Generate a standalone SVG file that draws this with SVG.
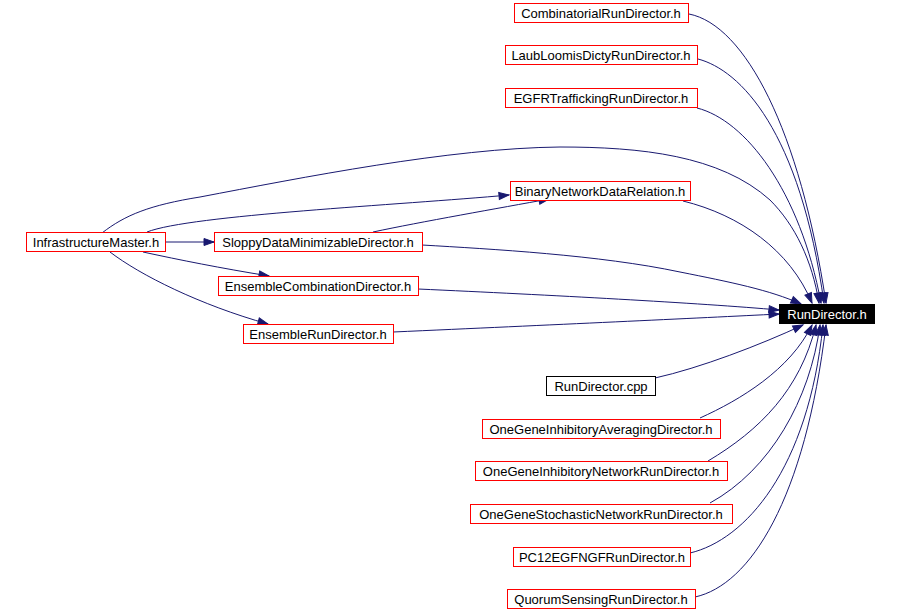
<svg xmlns="http://www.w3.org/2000/svg" width="897" height="611" viewBox="0 0 897 611">
<style>
.n rect{fill:#fff;stroke:#ff0000;stroke-width:1}
.n.b rect{stroke:#000}
.n.r rect{fill:#000;stroke:#000}
.n text{font-family:"Liberation Sans",Arial,sans-serif;font-size:13px;text-anchor:middle;fill:#000}
.n.r text{fill:#fff}
#edges path{fill:none;stroke:#191970;stroke-width:1;marker-end:url(#a)}
</style>
<defs>
<marker id="a" markerWidth="11" markerHeight="8" refX="10" refY="3.5" orient="auto" markerUnits="userSpaceOnUse" overflow="visible"><path d="M0,0 L10,3.5 L0,7 z" fill="#191970" stroke="#191970" stroke-width="1"/></marker>
</defs>
<rect width="897" height="611" fill="#fff"/>
<g id="edges">
<path d="M689,14 C745,25 800,130 826,303"/>
<path d="M698,59 C740,70 800,130 824,303"/>
<path d="M697,108 C745,120 800,190 821,303"/>
<path d="M102,233 C125,215 150,205 200,197 C300,178 450,148 560,147 C640,147 720,155 770,200 C795,225 812,260 819,303"/>
<path d="M147,232 C190,215 400,205 509,195"/>
<path d="M373,232 C420,222 500,208 549,199"/>
<path d="M683,201 C740,215 790,250 812,303"/>
<path d="M422,245 C490,249 600,255 680,272 C730,282 770,290 801,304"/>
<path d="M418,289 C550,295 700,303 779,310"/>
<path d="M393,332 C550,325 700,318 779,314"/>
<path d="M655,378 C700,368 760,345 803,325"/>
<path d="M700,418 C740,400 790,370 812,325"/>
<path d="M708,461 C760,430 800,390 816,325"/>
<path d="M710,503 C770,470 810,400 820,325"/>
<path d="M690,553 C745,540 808,470 823,325"/>
<path d="M695,597 C750,585 805,500 826,325"/>
<path d="M166,242 L214,242"/>
<path d="M143,252 C180,260 220,268 269,276"/>
<path d="M110,252 C140,275 200,305 268,324"/>
</g>
<g id="CombinatorialRunDirector" class="n"><rect x="514.5" y="3.5" width="174" height="19"/><text x="601" y="17.5">CombinatorialRunDirector.h</text></g>
<g id="LaubLoomisDictyRunDirector" class="n"><rect x="505.5" y="45.5" width="192" height="19"/><text x="601" y="59.5">LaubLoomisDictyRunDirector.h</text></g>
<g id="EGFRTraffickingRunDirector" class="n"><rect x="505.5" y="88.5" width="192" height="19"/><text x="601" y="102.5">EGFRTraffickingRunDirector.h</text></g>
<g id="BinaryNetworkDataRelation" class="n"><rect x="510.5" y="181.5" width="180" height="19"/><text x="600" y="195.5">BinaryNetworkDataRelation.h</text></g>
<g id="InfrastructureMaster" class="n"><rect x="26.5" y="232.5" width="139" height="19"/><text x="96" y="246.5">InfrastructureMaster.h</text></g>
<g id="SloppyDataMinimizableDirector" class="n"><rect x="214.5" y="232.5" width="208" height="19"/><text x="318" y="246.5">SloppyDataMinimizableDirector.h</text></g>
<g id="EnsembleCombinationDirector" class="n"><rect x="218.5" y="276.5" width="200" height="19"/><text x="318" y="290.5">EnsembleCombinationDirector.h</text></g>
<g id="EnsembleRunDirector" class="n"><rect x="243.5" y="324.5" width="150" height="19"/><text x="318" y="338.5">EnsembleRunDirector.h</text></g>
<g id="RunDirectorH" class="n r"><rect x="779.5" y="304.5" width="95" height="19"/><text x="827" y="318.5">RunDirector.h</text></g>
<g id="RunDirectorCpp" class="n b"><rect x="546.5" y="376.5" width="109" height="19"/><text x="601" y="390.5">RunDirector.cpp</text></g>
<g id="OneGeneInhibitoryAveragingDirector" class="n"><rect x="482.5" y="419.5" width="238" height="19"/><text x="601" y="433.5">OneGeneInhibitoryAveragingDirector.h</text></g>
<g id="OneGeneInhibitoryNetworkRunDirector" class="n"><rect x="475.5" y="461.5" width="252" height="19"/><text x="601" y="475.5">OneGeneInhibitoryNetworkRunDirector.h</text></g>
<g id="OneGeneStochasticNetworkRunDirector" class="n"><rect x="470.5" y="504.5" width="262" height="19"/><text x="601" y="518.5">OneGeneStochasticNetworkRunDirector.h</text></g>
<g id="PC12EGFNGFRunDirector" class="n"><rect x="513.5" y="547.5" width="177" height="19"/><text x="602" y="561.5">PC12EGFNGFRunDirector.h</text></g>
<g id="QuorumSensingRunDirector" class="n"><rect x="507.5" y="589.5" width="188" height="19"/><text x="601" y="603.5">QuorumSensingRunDirector.h</text></g>
</svg>
